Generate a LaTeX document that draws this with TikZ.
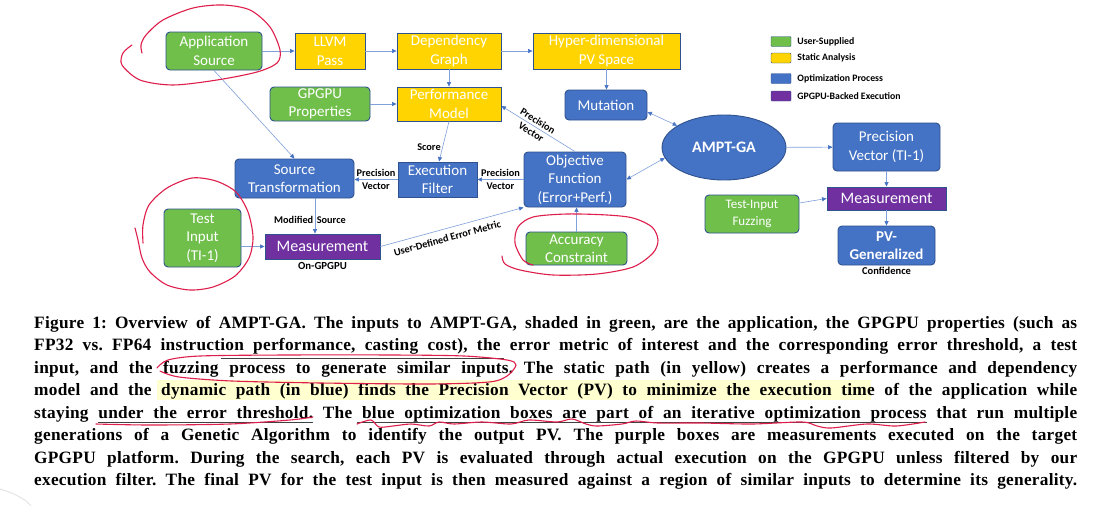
\documentclass[tikz,border=0pt]{standalone}
\usepackage{fontspec}
\setmainfont{Liberation Serif}
\newfontfamily\calibri{Carlito}
\newfontfamily\capfont[LetterSpace=1.5]{Liberation Serif}
\usetikzlibrary{arrows.meta,shapes.geometric,positioning}
\definecolor{usergreen}{RGB}{112,191,75}
\definecolor{staticyellow}{RGB}{255,212,0}
\definecolor{optblue}{RGB}{68,114,196}
\definecolor{gpupurple}{RGB}{112,48,160}
\definecolor{edgeblue}{RGB}{47,82,143}
\definecolor{linkblue}{RGB}{128,160,218}
\definecolor{inkred}{RGB}{222,30,75}
\definecolor{hilite}{RGB}{255,255,208}

\begin{document}
\frenchspacing
\begin{tikzpicture}[x=1pt,y=-1pt,
    box/.style={draw=edgeblue,line width=0.9pt,text=white,align=center,inner sep=0pt,
        font=\calibri\fontsize{15}{18.5}\selectfont},
    userbox/.style={box,fill=usergreen,rounded corners=4pt},
    staticbox/.style={box,fill=staticyellow},
    optbox/.style={box,fill=optblue,rounded corners=4pt},
    gpubox/.style={box,fill=gpupurple,font=\calibri\fontsize{16}{19}\selectfont},
    link/.style={draw=linkblue,line width=0.6pt,->,>={Triangle[length=4.5pt,width=4pt,color=optblue]}},
    biglink/.style={link,<->},
    lbl/.style={font=\calibri\bfseries\fontsize{10.3}{12.8}\selectfont,align=center,inner sep=1.5pt},
    key/.style={draw=edgeblue,line width=0.4pt,minimum width=20pt,minimum height=10pt,inner sep=0pt,rounded corners=1pt},
    keytext/.style={font=\calibri\bfseries\fontsize{9.8}{11}\selectfont,inner sep=0pt},
    capline/.style={anchor=base west,inner sep=0pt,font=\capfont\fontsize{17.3}{20}\selectfont\bfseries},
    ink/.style={draw=inkred,line width=1.1pt,line cap=round,line join=round},
    pen/.style={draw=black!75,line width=0.8pt}
]
    \path[fill=white,use as bounding box] (0,0) rectangle (1115,506);

    \node[userbox,minimum width=96pt,minimum height=38pt] (app) at (214,51) {Application\\Source};
    \node[staticbox,minimum width=70pt,minimum height=36pt] (llvm) at (330,51) {LLVM\\Pass};
    \node[staticbox,minimum width=104pt,minimum height=36pt] (dep) at (449,51) {Dependency\\Graph};
    \node[staticbox,minimum width=147pt,minimum height=36pt] (hyper) at (606.5,51) {Hyper-dimensional\\PV Space};
    \node[userbox,minimum width=100pt,minimum height=34pt] (gpgpu) at (320,104) {GPGPU\\Properties};
    \node[staticbox,minimum width=104pt,minimum height=34pt] (perf) at (449,104) {Performance\\Model};
    \node[optbox,minimum width=82pt,minimum height=30pt] (mutation) at (606,105) {Mutation};
    \node[ellipse,draw=edgeblue,line width=0.9pt,fill=optblue,text=white,minimum width=124pt,minimum height=65pt,
        inner sep=0pt,font=\calibri\bfseries\fontsize{16}{19}\selectfont] (ga) at (724,147.5) {AMPT-GA};
    \node[optbox,minimum width=107pt,minimum height=48pt] (pvti) at (886.5,147) {Precision\\Vector (TI-1)};
    \node[gpubox,minimum width=119pt,minimum height=23pt] (measr) at (886.5,198.5) {Measurement};
    \node[userbox,minimum width=94pt,minimum height=38pt,font=\calibri\fontsize{13}{17}\selectfont] (fuzz) at (752,214) {Test-Input\\Fuzzing};
    \node[optbox,minimum width=97pt,minimum height=39pt,font=\calibri\bfseries\fontsize{15}{18.5}\selectfont] (pvgen) at (886.5,245.5) {PV-\\Generalized};
    \node[lbl,below=0pt of pvgen,font=\calibri\bfseries\fontsize{10.5}{12}\selectfont] (conf) {Confidence};
    \node[optbox,minimum width=119pt,minimum height=39pt] (srctr) at (294.5,178.5) {Source\\Transformation};
    \node[userbox,minimum width=77pt,minimum height=58pt] (test) at (202.5,238) {Test\\Input\\(TI-1)};
    \node[gpubox,minimum width=115pt,minimum height=25pt] (measl) at (322.5,246.5) {Measurement};
    \node[lbl,below=1pt of measl,font=\calibri\bfseries\fontsize{10.8}{12}\selectfont] (ongpu) {On-GPGPU};
    \node[box,fill=optblue,minimum width=79pt,minimum height=35pt] (filter) at (437.5,179.5) {Execution\\Filter};
    \node[optbox,minimum width=102pt,minimum height=55pt] (obj) at (575,179.5) {Objective\\Function\\(Error+Perf.)};
    \node[userbox,minimum width=101pt,minimum height=33pt] (acc) at (576.5,248.5) {Accuracy\\Constraint};

    \draw[link] (app) -- (llvm);
    \draw[link] (llvm) -- (dep);
    \draw[link] (dep) -- (hyper);
    \draw[link] (dep) -- (perf);
    \draw[link] (gpgpu) -- (perf);
    \draw[link] (hyper.south) -- (hyper.south |- mutation.north);
    \draw[biglink] ([yshift=-7pt]mutation.east) -- (ga.155);
    \draw[biglink] (obj.east) -- (ga.190);
    \draw[link] (ga) -- (pvti);
    \draw[link] (obj.north) -- node[lbl,sloped,pos=0.55] {Precision\\Vector} ([yshift=-2pt]perf.east);
    \draw[link] (perf.south) -- node[lbl,left,pos=0.65] {Score} ([xshift=1.5pt]filter.north);
    \draw[link] (obj) -- node[lbl] {Precision\\Vector} (filter);
    \draw[link] (filter.west) -- node[lbl] {Precision\\Vector} (filter.west -| srctr.east);
    \draw[link] (app.south) -- (srctr.north);
    \draw[link] ([xshift=20.5pt]srctr.south) -- node[lbl,pos=0.62,left] {Modified} node[lbl,pos=0.62,right] {Source}
        ([xshift=20.5pt]srctr.south |- measl.north);
    \draw[link] (test.east |- measl.west) -- (measl.west);
    \draw[link] (measl.east) -- node[lbl,sloped,below=4pt,pos=0.45] {User-Defined Error Metric} (obj.south west);
    \draw[link] (acc.north) -- (acc.north |- obj.south);
    \draw[link] (pvti) -- (measr);
    \draw[link] ([yshift=11pt]fuzz.east) -- (measr.west);
    \draw[link] (measr) -- (pvgen);

    \node[key,fill=usergreen] (keyuser) at (781,41.5) {};
    \node[keytext,right=6pt of keyuser] (keyusertext) {User-Supplied};
    \node[key,fill=staticyellow] (keystatic) at (781,58) {};
    \node[keytext,right=6pt of keystatic] (keystatictext) {Static Analysis};
    \node[key,fill=optblue] (keyopt) at (781,78.5) {};
    \node[keytext,right=6pt of keyopt] (keyopttext) {Optimization Process};
    \node[key,fill=gpupurple] (keygpu) at (781,96) {};
    \node[keytext,right=6pt of keygpu] (keygputext) {GPGPU-Backed Execution};

    \fill[hilite] (157,380) rectangle (871,400);
    \node[capline] (cap1) at (34,328) {\makebox[1043pt][s]{Figure 1: Overview of AMPT-GA. The inputs to AMPT-GA, shaded in green, are the application, the GPGPU properties (such as}};
    \node[capline] (cap2) at (34,350.5) {\makebox[1043pt][s]{FP32 vs. FP64 instruction performance, casting cost), the error metric of interest and the corresponding error threshold, a test}};
    \node[capline] (cap3) at (34,373) {\makebox[1043pt][s]{input, and the fuzzing process to generate similar inputs. The static path (in yellow) creates a performance and dependency}};
    \node[capline] (cap4) at (34,395.5) {\makebox[1043pt][s]{model and the dynamic path (in blue) finds the Precision Vector (PV) to minimize the execution time of the application while}};
    \node[capline] (cap5) at (34,418) {\makebox[1043pt][s]{staying under the error threshold. The blue optimization boxes are part of an iterative optimization process that run multiple}};
    \node[capline] (cap6) at (34,440.5) {\makebox[1043pt][s]{generations of a Genetic Algorithm to identify the output PV. The purple boxes are measurements executed on the target}};
    \node[capline] (cap7) at (34,463) {\makebox[1043pt][s]{GPGPU platform. During the search, each PV is evaluated through actual execution on the GPGPU unless filtered by our}};
    \node[capline] (cap8) at (34,485.5) {\makebox[1043pt][s]{execution filter. The final PV for the test input is then measured against a region of similar inputs to determine its generality.}};

    \draw[pen] (221,358) -- (504,358);
    \draw[pen] (98,422) -- (313,422);
    \draw[pen] (357,422) -- (927,422);

    \draw[ink] plot[smooth] coordinates {(142,53) (141,45) (146,35) (163,20) (193,8) (223,5) (250,10) (270,27) (280,50) (277,63) (257,72) (217,80) (173,85) (140,80) (122,65) (123,53) (132,45)};
    \draw[ink] plot[smooth] coordinates {(135,228) (138,240) (142,258) (150,272) (167,285) (190,290) (213,287) (235,276) (249,258) (253,237) (248,212) (236,192) (216,181) (192,178) (167,188) (149,205) (143,225) (143,243)};
    \draw[ink] plot[smooth] coordinates {(502,256) (505,264) (520,270) (553,275) (597,274) (633,267) (653,253) (658,240) (652,227) (633,218) (607,215) (567,214) (533,217) (518,227) (515,243) (523,260) (533,265)};
    \draw[ink] plot[smooth] coordinates {(157,368) (168,360) (200,356) (286,355) (393,355) (464,356) (507,360) (516,365) (507,376) (489,382) (429,384) (321,383) (232,381) (179,377) (160,371)};
    \draw[ink] plot[smooth] coordinates {(96,424) (150,425) (230,424) (290,420) (313,417)};
    \draw[ink] plot[smooth] coordinates {(357,424) (371,420) (379,427) (393,426) (411,424) (429,426) (439,422) (454,424) (482,422) (511,424) (529,420) (557,422) (572,419) (586,424) (597,426) (622,424) (636,421) (658,423) (701,423) (752,424) (802,422) (817,426) (831,428) (867,424) (896,426) (925,422)};
    \draw[black!10,line width=1pt] plot[smooth] coordinates {(0,489) (14,494) (26,501) (31,506)};
\end{tikzpicture}
\end{document}
